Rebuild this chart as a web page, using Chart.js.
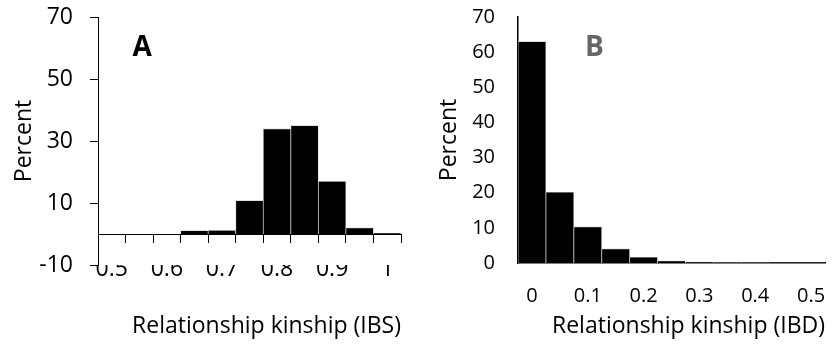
<!DOCTYPE html>
<html>
<head>
<meta charset="utf-8">
<script src="https://cdn.jsdelivr.net/npm/chart.js@4/dist/chart.umd.min.js"></script>
<style>
  html, body { margin: 0; padding: 0; background: #fff; }
  .panel { position: absolute; top: 0; height: 345px; }
  #panelA { left: 0; width: 420px; }
  #panelB { left: 420px; width: 419px; }
</style>
</head>
<body>
<div class="panel" id="panelA"><canvas id="chartA" width="420" height="345"></canvas></div>
<div class="panel" id="panelB"><canvas id="chartB" width="419" height="345"></canvas></div>
<script>
// ── DATA ──
const ibsBins    = ['0.5','0.55','0.6','0.65','0.7','0.75','0.8','0.85','0.9','0.95','1'];
const ibsPercent = [0, 0, 0, 1.1, 1.2, 10.8, 33.9, 35.0, 17.0, 2.0, 0.3];

const ibdBins    = ['0','0.05','0.1','0.15','0.2','0.25','0.3','0.35','0.4','0.45','0.5'];
const ibdPercent = [63.0, 20.2, 10.3, 4.0, 1.7, 0.6, 0.3, 0.1, 0.1, 0.05, 0.05];

const ibsTicks = { min: -10, max: 70, step: 20 };
const ibdTicks = { min: 0, max: 70, step: 10 };

Chart.defaults.font.family = "'Open Sans', sans-serif";
Chart.defaults.color = '#000';
Chart.defaults.animation = false;

// panel letter drawn inside the plot, placed in data coordinates
const panelLetter = {
    id: 'panelLetter',
    afterDatasetsDraw(chart, args, opts) {
        const { ctx, scales } = chart;
        ctx.save();
        ctx.font = "bold 28px 'Open Sans', sans-serif";
        ctx.fillStyle = opts.color;
        ctx.textAlign = 'center';
        ctx.textBaseline = 'middle';
        ctx.fillText(opts.text, scales.x.getPixelForValue(opts.at[0]), scales.y.getPixelForValue(opts.at[1]));
        ctx.restore();
    }
};

function barDataset(values) {
    return {
        data: values,
        backgroundColor: '#000',
        borderColor: '#c8c8c8',
        borderWidth: 0.75,
        barPercentage: 1,
        categoryPercentage: 1,
    };
}

const everyOther = (labels) => (val, i) => (i % 2 === 0 ? labels[i] : '');

// fixed axis sizes; label overhang is left to the layout padding
const fixWidth = (w) => (scale) => {
    scale.width = w;
    scale.paddingTop = 0;
    scale.paddingBottom = 0;
};
const fixHeight = (h) => (scale) => {
    scale.height = h;
    scale.paddingLeft = 0;
    scale.paddingRight = 0;
};

// ── PANEL A: IBS ──
new Chart(document.getElementById('chartA'), {
    type: 'bar',
    data: { labels: ibsBins, datasets: [barDataset(ibsPercent)] },
    plugins: [panelLetter],
    options: {
        responsive: false,
        layout: { padding: { top: 17, right: 19, left: 0, bottom: 0 } },
        plugins: {
            legend: { display: false },
            tooltip: { enabled: false },
            panelLetter: { text: 'A', color: '#000', at: [1.1, 60] }
        },
        scales: {
            x: {
                type: 'category',
                offset: true,
                grid: { display: false, drawTicks: false },
                border: { display: false },
                ticks: {
                    autoSkip: false, maxRotation: 0, padding: -9,
                    font: { size: 23 },
                    callback: everyOther(ibsBins)
                },
                title: {
                    display: true, text: 'Relationship kinship (IBS)', align: 'end',
                    font: { size: 23 }, padding: { top: 0, bottom: 5 }
                },
                afterFit: fixHeight(80)
            },
            // category axis line crossing at zero, with tick marks between bins
            xZero: {
                type: 'category',
                axis: 'x',
                position: { y: 0 },
                offset: true,
                grid: { display: true, offset: true, drawOnChartArea: false, drawTicks: true, tickLength: 8, color: '#000', lineWidth: 1 },
                border: { display: true, color: '#000', width: 1 },
                ticks: { display: false },
                afterFit: fixHeight(0)
            },
            y: {
                min: ibsTicks.min,
                max: ibsTicks.max,
                ticks: { stepSize: ibsTicks.step, padding: 17, font: { size: 23 } },
                grid: { display: true, drawOnChartArea: false, drawTicks: true, tickLength: 8, color: '#000', lineWidth: 1 },
                border: { display: true, color: '#000', width: 1 },
                title: { display: true, text: 'Percent', font: { size: 23 }, padding: { top: 11, bottom: 0 } },
                afterFit: fixWidth(98)
            }
        }
    }
});

// ── PANEL B: IBD ──
new Chart(document.getElementById('chartB'), {
    type: 'bar',
    data: { labels: ibdBins, datasets: [barDataset(ibdPercent)] },
    plugins: [panelLetter],
    options: {
        responsive: false,
        layout: { padding: { top: 17, right: 14, left: 0, bottom: 0 } },
        plugins: {
            legend: { display: false },
            tooltip: { enabled: false },
            panelLetter: { text: 'B', color: '#666', at: [2.24, 61.2] }
        },
        scales: {
            x: {
                type: 'category',
                offset: true,
                grid: { display: false, drawTicks: false },
                border: { display: true, color: '#000', width: 1.5 },
                ticks: {
                    autoSkip: false, maxRotation: 0, padding: 21,
                    font: { size: 20 },
                    callback: everyOther(ibdBins)
                },
                title: {
                    display: true, text: 'Relationship kinship (IBD)', align: 'end',
                    font: { size: 23 }, padding: { top: 0, bottom: 5 }
                },
                afterFit: fixHeight(82)
            },
            y: {
                min: ibdTicks.min,
                max: ibdTicks.max,
                ticks: { stepSize: ibdTicks.step, padding: 23, font: { size: 20 } },
                grid: { display: false, drawTicks: false },
                border: { display: true, color: '#000', width: 1.5 },
                title: { display: true, text: 'Percent', font: { size: 23 }, padding: { top: 16, bottom: 0 } },
                afterFit: fixWidth(98)
            }
        }
    }
});
</script>
</body>
</html>
